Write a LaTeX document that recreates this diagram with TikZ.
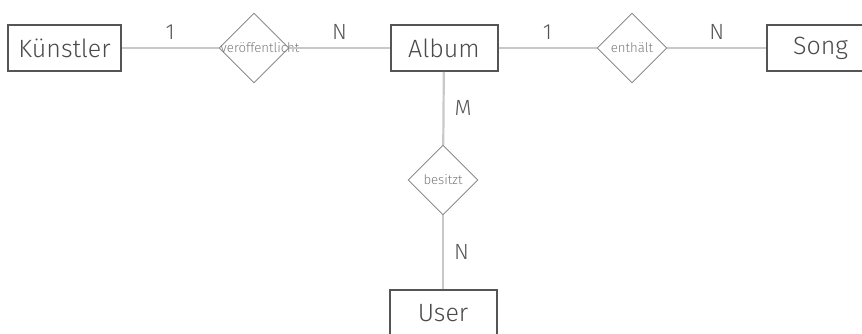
\documentclass[tikz,border=0pt]{standalone}
\usepackage{fontspec}
\setmainfont{Fira Sans}[UprightFont=* Light]
\usepackage{tikz}
\usetikzlibrary{shapes.geometric}
\definecolor{boxgray}{HTML}{555555}
\definecolor{entgray}{HTML}{4A4A4A}
\definecolor{relgray}{HTML}{8C8C8C}
\definecolor{reltextgray}{HTML}{7A7A7A}
\definecolor{linegray}{HTML}{C8C8C8}
\begin{document}
\begin{tikzpicture}[x=1pt, y=-1pt,
		entity/.style = {draw=boxgray, line width=2pt, rectangle, minimum width=107pt, minimum height=46pt, inner xsep=10pt, text=entgray, font=\fontsize{25}{30}\selectfont},
		relation/.style = {draw=relgray, line width=0.9pt, diamond, minimum width=70pt, minimum height=70pt, inner sep=0pt},
		reltext/.style = {text=reltextgray, font=\fontsize{13.2}{15}\selectfont},
		link/.style = {draw=linegray, line width=2.2pt},
		card/.style = {text=boxgray, inner sep=2pt, font=\fontsize{22}{26}\selectfont}]
		\useasboundingbox (0,0) rectangle (862,334);
		\clip (0,0) rectangle (862,334);
		
		\node[entity] (kuenstler) at (64.5, 48) {Künstler};
		\node[entity] (album) at (444, 48) {Album};
		\node[entity] (song) at (820.5, 48) {Song};
		\node[entity] (user) at (443, 313) {User};
		
		\node[relation] (publ) at (254, 48) {};
		\node[relation] (cont) at (632, 48) {};
		\node[relation] (owns) at (443, 180) {};
		\node[reltext] at ([xshift=6pt]publ) {veröffentlicht};
		\node[reltext] at (cont) {enthält};
		\node[reltext] at (owns) {besitzt};
		
		\draw[link] (kuenstler) -- (publ) node[card, pos=0.5, above=5pt] {1};
		\draw[link] (publ) -- (album) node[card, pos=0.5, above=5pt] {N};
		\draw[link] (album) -- (cont) node[card, pos=0.5, above=5pt] {1};
		\draw[link] (cont) -- (song) node[card, pos=0.5, above=5pt] {N};
		\draw[link] (album) -- (owns) node[card, pos=0.5, right=8pt] {M};
		\draw[link] (owns) -- (user) node[card, pos=0.5, right=8pt] {N};
		\end{tikzpicture}
\end{document}
